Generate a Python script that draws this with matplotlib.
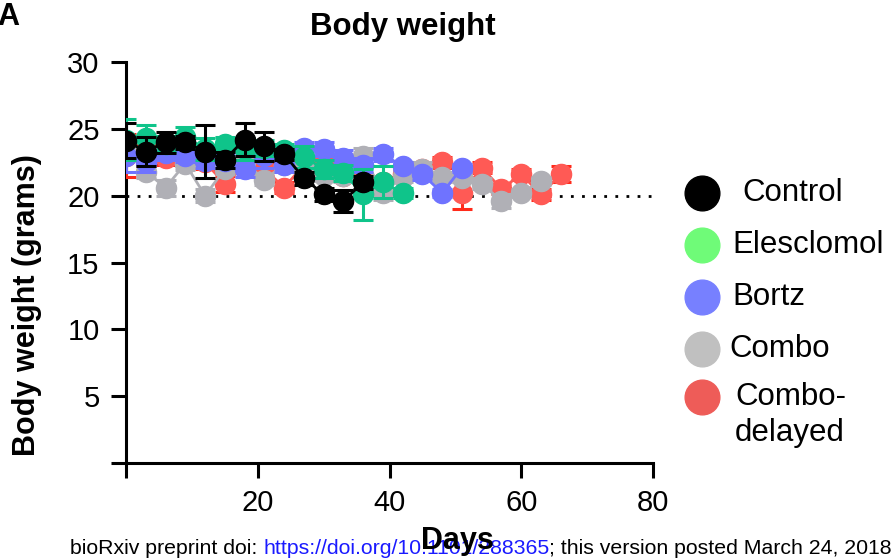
import matplotlib
matplotlib.use("Agg")
import matplotlib.pyplot as plt
from matplotlib.lines import Line2D

plt.rcParams['font.family'] = ['Liberation Sans', 'DejaVu Sans']

# days are measured every 3 days
control_days = [0, 3, 6, 9, 12, 15, 18, 21, 24, 27, 30, 33, 36]
control = [24.1, 23.3, 24.0, 24.0, 23.3, 22.7, 24.2, 23.7, 23.1, 21.3, 20.1, 19.6, 21.0]
control_err = [1.3, 1.1, 0.8, 0.5, 2.0, 0.6, 1.2, 1.1, 0.4, 0.5, 0.5, 0.8, 0.5]

eles_days = [0, 3, 6, 9, 12, 15, 18, 21, 24, 27, 30, 33, 36, 39, 42]
eles = [24.2, 24.3, 23.9, 24.4, 23.5, 23.9, 23.5, 23.6, 23.4, 22.9, 22.0, 21.7, 20.1, 21.0, 20.2]
eles_err = [1.5, 1.0, 0.6, 0.7, 0.8, 0.5, 0.8, 0.6, 0.5, 0.8, 0.7, 0.6, 1.9, 1.2, 0.4]

bortz_days = [0, 3, 6, 9, 12, 15, 18, 21, 24, 27, 30, 33, 36, 39, 42, 45, 48, 51]
bortz = [23.0, 22.5, 23.2, 23.0, 22.6, 22.6, 22.0, 23.0, 22.3, 23.6, 23.5, 22.8, 22.3, 23.1, 22.2, 21.6, 20.2, 22.1]
bortz_err = [1.2, 0.7, 0.5, 0.5, 0.5, 0.5, 0.6, 0.9, 0.5, 0.4, 0.5, 0.6, 0.5, 0.5, 0.3, 0.4, 0.3, 0.3]

combo_days = [0, 3, 6, 9, 12, 15, 18, 21, 24, 27, 30, 33, 36, 39, 42, 45, 48, 51, 54, 57, 60, 63]
combo = [23.5, 21.8, 20.6, 22.4, 20.0, 22.0, 22.5, 21.2, 22.3, 22.0, 21.5, 21.5, 23.0, 20.2, 21.4, 22.0, 21.4, 21.3, 20.9, 19.6, 20.2, 21.1]
combo_err = [0.8, 0.5, 0.6, 0.5, 0.5, 0.4, 0.5, 0.4, 0.4, 0.4, 0.4, 0.5, 0.6, 0.5, 0.4, 0.5, 0.4, 0.3, 0.4, 0.5, 0.3, 0.3]

delayed_days = [0, 3, 6, 9, 12, 15, 18, 21, 24, 27, 30, 33, 36, 39, 42, 45, 48, 51, 54, 57, 60, 63, 66]
delayed = [23.0, 23.0, 22.8, 23.3, 22.5, 20.9, 22.2, 22.0, 20.6, 22.3, 22.6, 21.5, 21.3, 21.0, 21.6, 22.0, 22.5, 20.2, 22.1, 20.5, 21.6, 20.1, 21.6]
delayed_err = [1.6, 0.8, 0.5, 0.5, 0.5, 0.6, 0.5, 0.5, 0.4, 0.4, 0.4, 0.4, 0.4, 0.4, 0.4, 0.4, 0.4, 1.2, 0.4, 0.4, 0.4, 0.4, 0.6]

labels = ['Control', 'Elesclomol', 'Bortz', 'Combo', 'Combo-']
legend_colors = ['#000000', '#6ffb78', '#7780ff', '#c0c0c0', '#ee5c58']

fig = plt.figure(figsize=(8.91, 5.58), dpi=100)
ax = fig.add_axes([126 / 891, 1 - 463 / 558, (653 - 126) / 891, (463 - 62) / 558])

def px(x, y):
    # pixel position (from top-left) -> figure fraction
    return x / 891, 1 - y / 558

# bottom to top drawing order
series = [
    (delayed_days, delayed, delayed_err, '#ff5a55', '#ff2a1a'),
    (combo_days, combo, combo_err, '#b0b0b6', '#b0b0b6'),
    (bortz_days, bortz, bortz_err, '#6f73ff', '#6f73ff'),
    (eles_days, eles, eles_err, '#0fc48a', '#0fc48a'),
    (control_days, control, control_err, '#000000', '#000000'),
]
for i, (d, w, e, c, ec) in enumerate(series):
    ax.errorbar(d, w, yerr=e, color=c, ecolor=ec, marker='o', markersize=14.5,
                linewidth=2, elinewidth=2.2, capsize=7, capthick=2.2,
                zorder=3 + i)

ax.axhline(20, color='black', linestyle=(0, (1, 3)), linewidth=2, zorder=1)

ax.set_xlim(0, 80)
ax.set_ylim(0, 30)
ax.set_xticks([0, 20, 40, 60, 80])
ax.set_xticklabels(['', '20', '40', '60', '80'])
ax.set_yticks([0, 5, 10, 15, 20, 25, 30])
ax.set_yticklabels(['', '5', '10', '15', '20', '25', '30'])
ax.tick_params(axis='both', direction='out', length=11, width=2.2, labelsize=21)
ax.tick_params(axis='x', pad=8)
ax.tick_params(axis='y', pad=8)
for s in ['top', 'right']:
    ax.spines[s].set_visible(False)
for s in ['left', 'bottom']:
    ax.spines[s].set_linewidth(2.2)

fig.text(*px(403, 27), 'Body weight', fontsize=22.5, fontweight='bold', ha='center', va='center')
fig.text(*px(27, 305), 'Body weight (grams)', fontsize=22, fontweight='bold',
         ha='center', va='center', rotation=90)
fig.text(*px(457, 541), 'Days', fontsize=22, fontweight='bold', ha='center', va='center', zorder=5)

# legend drawn by hand
leg_y = [193, 245, 297, 349, 397]
text_x = [742, 732, 732, 729, 735]
for lab, col, y, tx in zip(labels, legend_colors, leg_y, text_x):
    fig.add_artist(Line2D([702 / 891], [1 - y / 558], marker='o', markersize=25,
                          color=col, linestyle='none', transform=fig.transFigure))
    fig.text(*px(tx, y), lab, fontsize=22.5, va='center')
fig.text(*px(735, 433), 'delayed', fontsize=22.5, va='center')

fig.text(*px(-3, 17), 'A', fontsize=22, fontweight='bold', va='center')

# preprint footer, pieces placed one after another
fig.canvas.draw()
r = fig.canvas.get_renderer()
fy = 1 - 549 / 558
x0 = 70
for part, col in [('bioRxiv preprint doi: ', 'black'),
                  ('https://doi.org/10.1101/288365', '#1a1aff'),
                  ('; this version posted March 24, 2018', 'black')]:
    t = fig.text(x0 / 891, fy, part, fontsize=15.3, va='center', color=col, zorder=1)
    x0 = t.get_window_extent(r).x1

fig.savefig('out.png', dpi=100)
